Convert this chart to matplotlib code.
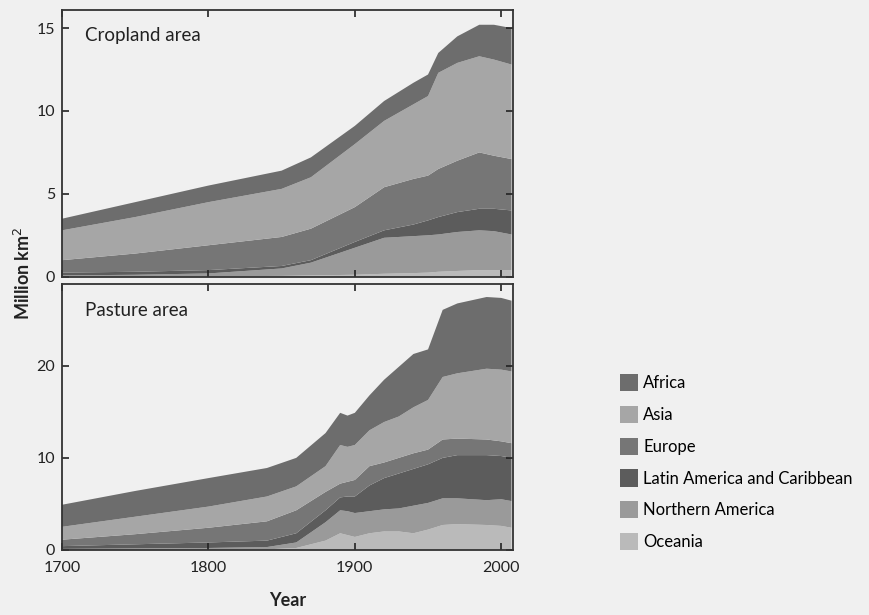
import numpy as np
import matplotlib
matplotlib.use("Agg")
import matplotlib.pyplot as plt
from matplotlib.patches import Patch

plt.rcParams['font.family'] = ['Lato', 'DejaVu Sans']

regions = ['Africa', 'Asia', 'Europe', 'Latin America and Caribbean',
           'Northern America', 'Oceania']
colors = ['#6d6d6d', '#a6a6a6', '#767676', '#5c5c5c', '#9a9a9a', '#bababa']

# cropland, million km2 per region
years_crop = [1700, 1750, 1800, 1850, 1870, 1900, 1920, 1940, 1950, 1957, 1970, 1985, 1995, 2007]
oce_crop = [0.02, 0.02, 0.03, 0.05, 0.08, 0.12, 0.18, 0.22, 0.25, 0.30, 0.35, 0.40, 0.40, 0.40]
na_crop = [0.06, 0.10, 0.17, 0.45, 0.77, 1.63, 2.17, 2.23, 2.25, 2.25, 2.35, 2.40, 2.35, 2.15]
lat_crop = [0.17, 0.18, 0.20, 0.15, 0.15, 0.35, 0.45, 0.70, 0.90, 1.05, 1.20, 1.30, 1.35, 1.45]
eur_crop = [0.75, 1.10, 1.50, 1.75, 1.90, 2.10, 2.60, 2.75, 2.70, 2.90, 3.10, 3.40, 3.20, 3.10]
asia_crop = [1.80, 2.20, 2.60, 2.90, 3.10, 3.80, 4.00, 4.50, 4.80, 5.80, 5.90, 5.80, 5.80, 5.70]
afr_crop = [0.70, 0.90, 1.00, 1.10, 1.20, 1.10, 1.20, 1.30, 1.30, 1.20, 1.60, 1.90, 2.10, 2.20]

# pasture, million km2 per region
years_past = [1700, 1750, 1800, 1840, 1860, 1880, 1890, 1895, 1900, 1910, 1920, 1930, 1940,
              1950, 1960, 1970, 1990, 2000, 2007]
oce_past = [0.0, 0.0, 0.0, 0.05, 0.2, 1.0, 1.8, 1.6, 1.4, 1.8, 2.0, 2.0, 1.8, 2.2, 2.7, 2.8, 2.7, 2.6, 2.4]
na_past = [0.1, 0.15, 0.2, 0.25, 0.6, 2.0, 2.5, 2.6, 2.6, 2.4, 2.4, 2.5, 3.0, 2.9, 2.9, 2.8, 2.7, 2.9, 2.9]
lat_past = [0.3, 0.45, 0.6, 0.7, 1.0, 1.3, 1.4, 1.6, 1.8, 2.8, 3.4, 3.8, 4.0, 4.2, 4.4, 4.7, 4.9, 4.7, 4.7]
eur_past = [0.7, 1.1, 1.6, 2.1, 2.5, 2.0, 1.5, 1.6, 1.8, 2.1, 1.7, 1.7, 1.7, 1.6, 2.0, 1.8, 1.7, 1.6, 1.6]
asia_past = [1.4, 1.9, 2.3, 2.7, 2.6, 2.8, 4.2, 3.8, 3.8, 3.9, 4.4, 4.5, 5.0, 5.4, 6.8, 7.1, 7.7, 7.8, 7.8]
afr_past = [2.4, 2.8, 3.1, 3.1, 3.1, 3.6, 3.5, 3.4, 3.5, 3.8, 4.6, 5.4, 5.8, 5.5, 7.3, 7.6, 7.8, 7.8, 7.7]

bg = '#f0f0f0'
txt = '#222222'
fig = plt.figure(figsize=(8.69, 6.15), dpi=100, facecolor=bg)
ax1 = fig.add_axes([0.0713, 0.550, 0.519, 0.434])
ax2 = fig.add_axes([0.0713, 0.106, 0.519, 0.432])

# stacked bottom-up: Oceania first, Africa on top
stack_colors = colors[::-1]
ax1.stackplot(years_crop, oce_crop, na_crop, lat_crop, eur_crop, asia_crop, afr_crop,
              colors=stack_colors, linewidth=0)
ax2.stackplot(years_past, oce_past, na_past, lat_past, eur_past, asia_past, afr_past,
              colors=stack_colors, linewidth=0)

for ax in (ax1, ax2):
    ax.set_facecolor(bg)
    ax.set_xlim(1700, 2008)
    ax.set_xticks([1700, 1800, 1900, 2000])
    ax.tick_params(direction='in', length=5, width=1.2, top=True, right=True,
                   labelsize=11.5, colors=txt)
    ax.tick_params(axis='y', pad=5)
    ax.tick_params(axis='x', pad=8)
    for s in ax.spines.values():
        s.set_linewidth(1.3)
        s.set_color('#333333')

ax1.set_ylim(0, 16.1)
ax1.set_yticks([0, 5, 10, 15])
ax1.tick_params(labelbottom=False)
ax2.set_ylim(0, 28.9)
ax2.set_yticks([0, 10, 20])

ax1.text(0.05, 0.905, 'Cropland area', transform=ax1.transAxes, fontsize=13.5,
         va='center', color=txt)
ax2.text(0.05, 0.902, 'Pasture area', transform=ax2.transAxes, fontsize=13.5,
         va='center', color=txt)

ax2.set_xlabel('Year', fontsize=13, fontweight='bold', color=txt, labelpad=12)
fig.text(0.026, 0.555, 'Million km$^2$', rotation=90, fontsize=13, fontweight='bold',
         ha='center', va='center', color=txt)

handles = [Patch(facecolor=c, edgecolor='none') for c in colors]
fig.legend(handles, regions, loc='upper left', bbox_to_anchor=(0.7135, 0.392),
           frameon=False, fontsize=12, handlelength=1.08, handleheight=1.2,
           handletextpad=0.3, labelspacing=0.88, borderaxespad=0, borderpad=0)

fig.savefig('out.png', dpi=100, facecolor=bg)
